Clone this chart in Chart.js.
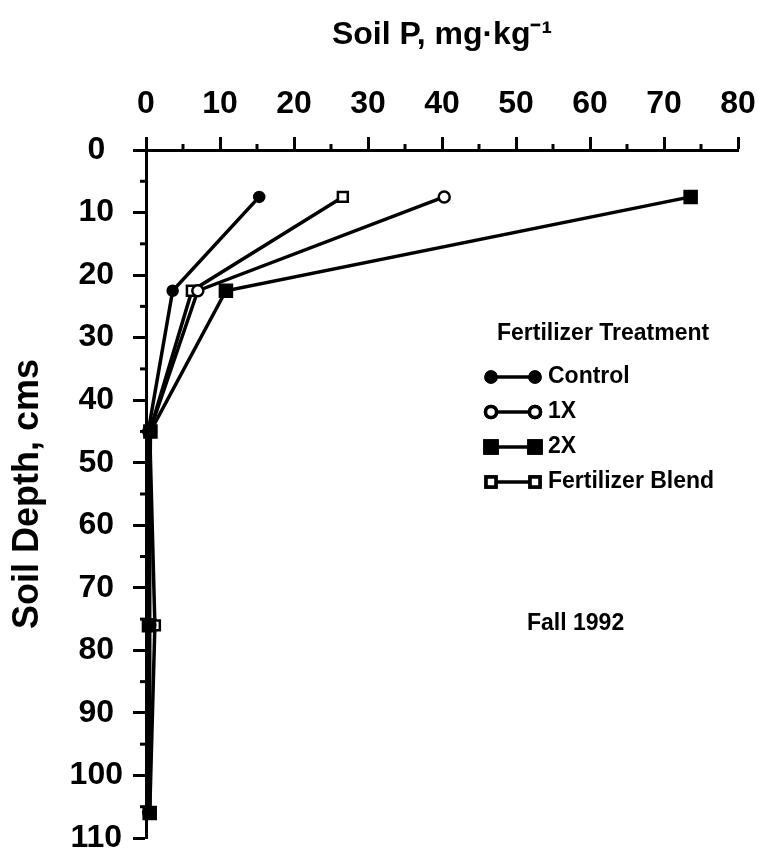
<!DOCTYPE html>
<html>
<head>
<meta charset="utf-8">
<script src="https://cdn.jsdelivr.net/npm/chart.js@4.4.1/dist/chart.umd.min.js"></script>
<style>
  html, body { margin: 0; background: #fff; }
  #wrap { width: 764px; height: 860px; }
</style>
</head>
<body>
<div id="wrap"><canvas id="soilChart"></canvas></div>
<script>
// Soil depth (cm) of each sample, and soil P (mg/kg) per treatment
const depths = [7.5, 22.5, 45, 76, 106];
const controlP = [15.3, 3.6, 0.3, 0.3, 0.3];
const oneXP = [40.3, 7, 0.5, 0.5, 0.5];
const twoXP = [73.6, 10.8, 0.6, 0.4, 0.5];
const blendP = [26.6, 6.2, 0.5, 1.2, 0.5];

const seriesNames = ["Control", "1X", "2X", "Fertilizer Blend"];
const xTickValues = [0, 10, 20, 30, 40, 50, 60, 70, 80];
const yTickValues = [0, 10, 20, 30, 40, 50, 60, 70, 80, 90, 100, 110];

const FONT = "'Liberation Sans', Arial, Helvetica, sans-serif";

function toPoints(values) {
  return values.map((v, i) => ({ x: v, y: depths[i] }));
}

// marker look per series
const markers = [
  { style: "circle", radius: 5, fill: "#000" },
  { style: "circle", radius: 5.5, fill: "#fff" },
  { style: "rect", radius: 8.5, fill: "#000" },
  { style: "rect", radius: 7, fill: "#fff" },
];

const allValues = [controlP, oneXP, twoXP, blendP];

const datasets = allValues.map((vals, i) => ({
  label: seriesNames[i],
  data: toPoints(vals),
  showLine: true,
  borderColor: "#000",
  borderWidth: 3.5,
  pointStyle: markers[i].style,
  pointRadius: markers[i].radius,
  pointBackgroundColor: markers[i].fill,
  pointBorderColor: "#000",
  pointBorderWidth: 2.5,
  clip: false,
}));

// short minor ticks every 5 units, drawn through the scales
const minorTicks = {
  id: "minorTicks",
  afterDraw(chart) {
    const { ctx, chartArea, scales } = chart;
    ctx.save();
    ctx.strokeStyle = "#000";
    ctx.lineWidth = 3;
    for (let v = 5; v < 80; v += 10) {
      const px = scales.x.getPixelForValue(v);
      ctx.beginPath();
      ctx.moveTo(px, chartArea.top);
      ctx.lineTo(px, chartArea.top - 6);
      ctx.stroke();
    }
    for (let v = 5; v < 110; v += 10) {
      const py = scales.y.getPixelForValue(v);
      ctx.beginPath();
      ctx.moveTo(chartArea.left, py);
      ctx.lineTo(chartArea.left - 6, py);
      ctx.stroke();
    }
    ctx.restore();
  },
};

// legend box and note inside the plot
const legendNote = {
  id: "legendNote",
  afterDraw(chart) {
    const { ctx } = chart;
    ctx.save();
    ctx.fillStyle = "#000";
    ctx.textBaseline = "middle";
    ctx.textAlign = "left";
    ctx.font = "bold 23px " + FONT;
    ctx.fillText("Fertilizer Treatment", 497, 334);

    const rows = [377, 412, 447, 482];
    rows.forEach((ry, i) => {
      ctx.strokeStyle = "#000";
      ctx.lineWidth = 3.5;
      ctx.beginPath();
      ctx.moveTo(491, ry);
      ctx.lineTo(535, ry);
      ctx.stroke();
      [491, 535].forEach((mx) => {
        Chart.helpers.drawPoint(ctx, {
          pointStyle: markers[i].style,
          radius: markers[i].radius,
          borderWidth: 2.5,
        }, mx, ry);
        ctx.fillStyle = markers[i].fill;
        ctx.fill();
        ctx.stroke();
      });
      ctx.fillStyle = "#000";
      ctx.fillText(seriesNames[i], 548, ry);
    });

    ctx.fillText("Fall 1992", 527, 624);
    ctx.restore();
  },
};

const ctx = document.getElementById("soilChart").getContext("2d");
new Chart(ctx, {
  type: "scatter",
  data: { datasets: datasets },
  options: {
    responsive: true,
    maintainAspectRatio: false,
    animation: false,
    devicePixelRatio: 1,
    layout: { padding: { top: 10, left: 6, right: 26, bottom: 22 } },
    plugins: {
      legend: { display: false },
      tooltip: { enabled: false },
    },
    scales: {
      x: {
        type: "linear",
        position: "top",
        min: 0,
        max: 80,
        afterBuildTicks: (scale) => {
          scale.ticks = xTickValues.map((v) => ({ value: v }));
        },
        afterFit: (scale) => {
          scale.height = 140;
          scale.paddingLeft = 0;
          scale.paddingRight = 0;
        },
        ticks: {
          color: "#000",
          font: { family: FONT, size: 32, weight: "bold" },
          padding: 14,
          maxRotation: 0,
        },
        grid: {
          drawOnChartArea: false,
          tickLength: 13,
          tickWidth: 3,
          tickColor: "#000",
        },
        border: { color: "#000", width: 3 },
        title: {
          display: true,
          text: "Soil P, mg·kg⁻¹",
          color: "#000",
          font: { family: FONT, size: 32, weight: "bold" },
          padding: { top: 6, bottom: 10 },
        },
      },
      y: {
        type: "linear",
        reverse: true,
        min: 0,
        max: 110,
        afterBuildTicks: (scale) => {
          scale.ticks = yTickValues.map((v) => ({ value: v }));
        },
        afterFit: (scale) => {
          scale.width = 140;
          scale.paddingTop = 0;
          scale.paddingBottom = 0;
        },
        ticks: {
          color: "#000",
          font: { family: FONT, size: 32, weight: "bold" },
          padding: 10,
          crossAlign: "center",
        },
        grid: {
          drawOnChartArea: false,
          tickLength: 13,
          tickWidth: 3,
          tickColor: "#000",
        },
        border: { color: "#000", width: 3 },
        title: {
          display: true,
          text: "Soil Depth, cms",
          color: "#000",
          font: { family: FONT, size: 36, weight: "bold" },
          padding: { top: 0, bottom: 4 },
        },
      },
    },
  },
  plugins: [minorTicks, legendNote],
});
</script>
</body>
</html>
